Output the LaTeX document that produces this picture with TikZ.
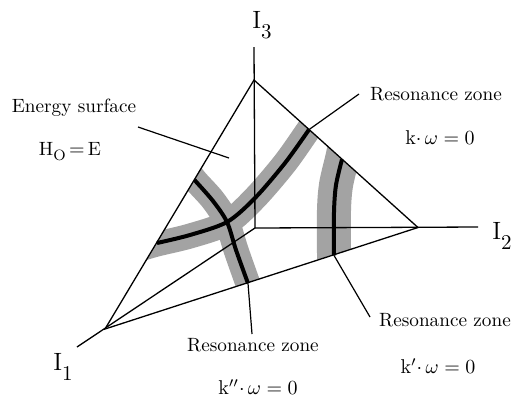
\documentclass[tikz,border=0pt]{standalone}
\begin{document}
\begin{tikzpicture}[x=0.5pt,y=-0.5pt,
  edge/.style={line width=0.65pt},
  zone/.style={line width=2pt},
  band/.style={line width=12.5pt, color=black!36},
  wideband/.style={line width=17pt, color=black!36},
  lbl/.style={font=\fontsize{9.6}{11}\selectfont, inner sep=0pt},
  axlbl/.style={font=\fontsize{12.5}{14}\selectfont, inner sep=0pt},
  ptr/.style={line width=0.6pt}]
\useasboundingbox (0,0) rectangle (513,398);
% key points
\coordinate (O) at (255,228);
\coordinate (T) at (254,80);
\coordinate (R) at (418,227.5);
\coordinate (L) at (105,329);
\coordinate (A3) at (254,47);
\coordinate (A2) at (478,227);
\coordinate (A1) at (77,347);
% shaded resonance bands
\begin{scope}
  \clip (T) -- (R) -- (L) -- cycle;
  \draw[band] plot[smooth] coordinates {(140,249) (157,244) (190,236) (227,223) (255,198) (285,163) (309,129) (322,110)};
  \draw[band] plot[smooth] coordinates {(185,166) (195,180) (213,200) (227,222) (236,250) (248,284) (253,298)};
  \draw[wideband] plot[smooth] coordinates {(345,145) (342,159) (336,185) (334,210) (334,255) (334,270)};
\end{scope}
% triangle and axes
\draw[edge] (T) -- (R) -- (L) -- cycle;
\draw[edge] (O) -- (A3);
\draw[edge] (O) -- (A2);
\draw[edge] (O) -- (A1);
% resonance curves
\coordinate (c1s) at (157,243);
\coordinate (c1e) at (309,129.6);
\coordinate (c2s) at (194.5,180);
\coordinate (c2e) at (248,283.4);
\coordinate (c3s) at (342,159.4);
\coordinate (c3e) at (334,255.4);
\draw[zone] plot[smooth] coordinates {(c1s) (190,235) (227,222) (255,198) (285,163) (c1e)};
\draw[zone] plot[smooth] coordinates {(c2s) (213,201) (227,222) (236,250) (c2e)};
\draw[zone] plot[smooth] coordinates {(c3s) (336,185) (334,212) (c3e)};
% labels
\node[axlbl] (I3) at (262,25) {I\raisebox{-5pt}{\fontsize{10.5}{12}\selectfont 3}};
\node[axlbl] (I2) at (502,236) {I\raisebox{-5pt}{\fontsize{10.5}{12}\selectfont 2}};
\node[axlbl] (I1) at (63,367) {I\raisebox{-5pt}{\fontsize{10.5}{12}\selectfont 1}};
\node[lbl] (es) at (74,108) {Energy surface};
\node[lbl] (he) at (70,152) {H\raisebox{-2.5pt}{\fontsize{7.5}{9}\selectfont O}$\,=\,$E};
\node[lbl] (rz1) at (436,94) {Resonance zone};
\node[lbl] (kw1) at (440,138) {$\mathrm{k}{\cdot}\,\omega=0$};
\node[lbl] (rz2) at (445,320) {Resonance zone};
\node[lbl] (kw2) at (438,366) {$\mathrm{k}'{\cdot}\,\omega=0$};
\node[lbl] (rz3) at (253,345) {Resonance zone};
\node[lbl] (kw3) at (258,387) {$\mathrm{k}''{\cdot}\,\omega=0$};
% pointers
\coordinate (p0) at (138,127);
\coordinate (p0e) at (229,158);
\coordinate (p1) at (359,94);
\coordinate (p2) at (370,317);
\coordinate (p3) at (252,334);
\draw[ptr] (p0) -- (p0e);
\draw[ptr] (p1) -- (c1e);
\draw[ptr] (p2) -- (c3e);
\draw[ptr] (p3) -- (c2e);
\end{tikzpicture}
\end{document}
